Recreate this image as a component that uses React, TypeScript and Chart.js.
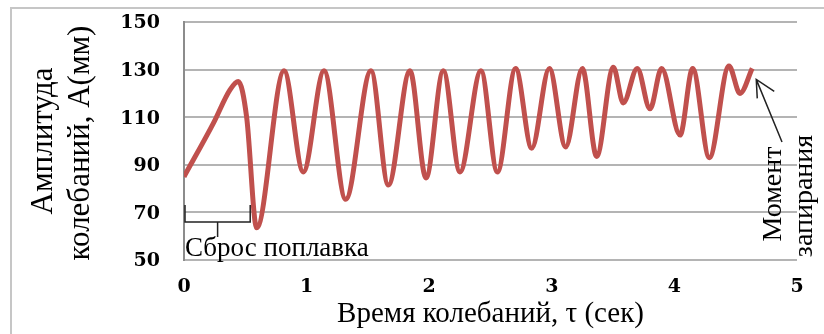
import React, { useEffect, useRef } from "react";
import { Chart, registerables } from "chart.js";

Chart.register(...registerables);

const times = [0, 0.24, 0.375, 0.443, 0.511, 0.593, 0.816, 0.973, 1.142, 1.319, 1.525, 1.667, 1.843, 1.974, 2.115, 2.251, 2.422, 2.556, 2.705, 2.836, 2.98, 3.113, 3.249, 3.366, 3.502, 3.583, 3.697, 3.801, 3.896, 4.046, 4.149, 4.285, 4.445, 4.535, 4.635];
const amplitudes = [85, 107.5, 121.5, 125, 110, 63.5, 129.5, 87, 129.5, 75.5, 129.5, 81.5, 129.5, 84.5, 129.5, 87, 129.5, 87, 130.5, 97, 130.5, 97.5, 130.5, 93.5, 131, 116, 130.5, 113.5, 130.5, 102.5, 130.5, 93, 131.5, 120, 130.5];

const xTitle = "Время колебаний, τ (сек)";
const yTitleLines = ["Амплитуда", "колебаний, А(мм)"];
const resetLabel = "Сброс поплавка";
const lockLabelLines = ["Момент", "запирания"];
const resetRange = [0, 0.54];

const SERIF = "'Liberation Serif', 'Times New Roman', serif";
const TICK_FONT = "bold 19px 'DejaVu Serif', serif";

const decorPlugin = {
  id: "decor",
  beforeDraw(chart: any) {
    const ctx = chart.ctx;
    ctx.save();
    ctx.strokeStyle = "#c6c6c6";
    ctx.lineWidth = 2;
    ctx.strokeRect(11, 8, chart.width + 20, chart.height + 20);
    ctx.restore();
  },
  afterDraw(chart: any) {
    const ctx = chart.ctx;
    const xs = chart.scales.x;
    const ys = chart.scales.y;
    const area = chart.chartArea;
    ctx.save();
    ctx.fillStyle = "#000";
    // tick labels (drawn from the library's scales)
    ctx.font = TICK_FONT;
    ctx.textBaseline = "middle";
    ctx.textAlign = "right";
    ys.ticks.forEach((t: any) => {
      ctx.fillText(String(t.value), 160, ys.getPixelForValue(t.value) + 1.5);
    });
    ctx.textAlign = "center";
    xs.ticks.forEach((t: any) => {
      ctx.fillText(String(t.value), xs.getPixelForValue(t.value), 287);
    });
    // x title
    ctx.font = `29px ${SERIF}`;
    ctx.textAlign = "center";
    ctx.textBaseline = "alphabetic";
    ctx.fillText(xTitle, (area.left + area.right) / 2, 322);
    // y title
    ctx.font = `31px ${SERIF}`;
    const yCenters = [[44, 141], [81, 143]];
    yTitleLines.forEach((t, i) => {
      ctx.save();
      ctx.translate(yCenters[i][0], yCenters[i][1]);
      ctx.rotate(-Math.PI / 2);
      ctx.textAlign = "center";
      ctx.textBaseline = "middle";
      ctx.fillText(t, 0, 0);
      ctx.restore();
    });
    // reset label & bracket
    const bx0 = xs.getPixelForValue(resetRange[0]) + 1;
    const bx1 = xs.getPixelForValue(resetRange[1]);
    const bm = (bx0 + bx1) / 2;
    ctx.strokeStyle = "#222";
    ctx.lineWidth = 1.5;
    ctx.beginPath();
    ctx.moveTo(bx0, 205);
    ctx.lineTo(bx0, 222);
    ctx.lineTo(bx1, 222);
    ctx.lineTo(bx1, 205);
    ctx.moveTo(bm, 222);
    ctx.lineTo(bm, 237);
    ctx.stroke();
    ctx.font = `27px ${SERIF}`;
    ctx.textAlign = "left";
    ctx.textBaseline = "alphabetic";
    ctx.fillText(resetLabel, 185, 256);
    // lock label
    ctx.font = `28px ${SERIF}`;
    const lCenters = [[774, 194], [805, 196]];
    lockLabelLines.forEach((t, i) => {
      ctx.save();
      ctx.translate(lCenters[i][0], lCenters[i][1]);
      ctx.rotate(-Math.PI / 2);
      ctx.textAlign = "center";
      ctx.textBaseline = "middle";
      ctx.fillText(t, 0, 0);
      ctx.restore();
    });
    // arrow
    const tipX = xs.getPixelForValue(times[times.length - 1]) + 4;
    const tipY = ys.getPixelForValue(amplitudes[amplitudes.length - 1]) + 11;
    ctx.beginPath();
    ctx.moveTo(782, 142);
    ctx.lineTo(tipX, tipY);
    ctx.moveTo(tipX + 18, tipY + 12);
    ctx.lineTo(tipX, tipY);
    ctx.lineTo(tipX + 1, tipY + 19);
    ctx.stroke();
    ctx.restore();
  },
};

export default function App() {
  const ref = useRef<HTMLCanvasElement>(null);
  useEffect(() => {
    document.body.style.margin = "0";
    const chart = new Chart(ref.current!, {
      type: "line",
      data: {
        datasets: [
          {
            data: times.map((t, i) => ({ x: t, y: amplitudes[i] })),
            borderColor: "#C0504D",
            borderWidth: 5,
            pointRadius: 0,
            cubicInterpolationMode: "monotone",
            fill: false,
          },
        ],
      },
      options: {
        animation: false,
        responsive: false,
        devicePixelRatio: 1,
        layout: { padding: { top: 22, right: 27, left: 0, bottom: 0 } },
        plugins: { legend: { display: false }, tooltip: { enabled: false } },
        scales: {
          x: {
            type: "linear",
            min: 0,
            max: 5,
            afterFit: (s: any) => { s.height = 74; s.paddingLeft = 0; s.paddingRight = 0; },
            ticks: { stepSize: 1, display: false },
            grid: { display: false, drawTicks: false },
            border: { display: false },
          },
          y: {
            min: 50,
            max: 150,
            afterFit: (s: any) => { s.width = 184; s.paddingTop = 0; s.paddingBottom = 0; },
            ticks: { stepSize: 20, display: false },
            grid: { color: "#b4b4b4", lineWidth: 2, drawTicks: false },
            border: { display: true, color: "#8c8c8c", width: 2 },
          },
        },
      },
      plugins: [decorPlugin],
    });
    return () => chart.destroy();
  }, []);
  return <canvas ref={ref} width={824} height={334} style={{ display: "block" }} />;
}
